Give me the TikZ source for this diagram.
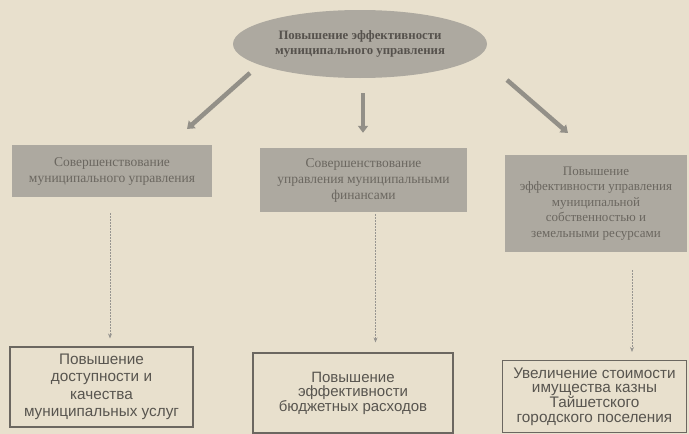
\documentclass[tikz,border=0pt]{standalone}
\usepackage{fontspec}
\setmainfont{Liberation Serif}
\newfontfamily\boxsans{Liberation Sans}
\usepackage{xcolor}
\usetikzlibrary{arrows.meta,positioning,shapes.geometric}
\definecolor{paper}{HTML}{E8E0CD}
\definecolor{shade}{HTML}{ADA9A0}
\definecolor{ink}{HTML}{6B6760}
\definecolor{sansink}{HTML}{58554F}

\begin{document}
\begin{tikzpicture}[x=1pt, y=-1pt, >=Latex,
  every node/.style={align=center},
  topbox/.style={fill=shade, draw=none, inner sep=0pt, text=ink, font=\fontsize{13.5}{16}\selectfont},
  goalbox/.style={draw=ink, line width=1.1pt, inner sep=0pt, text=sansink, font=\boxsans\fontsize{15.3}{17.5}\selectfont},
  fatarrow/.style={draw=shade!85!black, line width=4.5pt, -{Triangle[length=7pt,width=10pt]}},
  dotarrow/.style={draw=ink!70, line width=0.6pt, dash pattern=on 2pt off 1pt, -{Stealth[length=5pt,width=4pt]}}]
\fill[paper] (0,0) rectangle (689,434);
\node[ellipse, fill=shade, minimum width=254pt, minimum height=68pt, inner sep=0pt, text=ink!80!black, font=\bfseries\fontsize{12.8}{15}\selectfont] (ell) at (360,44) {Повышение эффективности\\муниципального управления};
\node[topbox, minimum width=200pt, minimum height=52pt] (b1) at (112,171) {Совершенствование\\муниципального управления};
\node[topbox, minimum width=207pt, minimum height=64pt] (b2) at (363.5,180) {Совершенствование\\управления муниципальными\\финансами};
\node[topbox, minimum width=182pt, minimum height=97pt, font=\fontsize{13}{15.5}\selectfont] (b3) at (596,203.5) {Повышение\\эффективности управления\\муниципальной\\собственностью и\\земельными ресурсами};
\node[goalbox, minimum width=183pt, minimum height=80pt] (g1) at (101.5,387) {Повышение\\доступности и\\качества\\муниципальных услуг};
\node[goalbox, minimum width=200pt, minimum height=80pt, font=\boxsans\fontsize{15}{14.5}\selectfont] (g2) at (353,393) {Повышение\\эффективности\\бюджетных расходов};
\node[goalbox, minimum width=184pt, minimum height=72pt, font=\boxsans\fontsize{15.3}{14.2}\selectfont] (g3) at (594.5,396.5) {Увеличение стоимости\\имущества казны\\Тайшетского\\городского поселения};
\coordinate (la) at (250,73);
\coordinate (lb) at (187,129);
\coordinate (ra) at (507,80);
\coordinate (rb) at (568,133);
\draw[fatarrow] (la) -- (lb);
\draw[fatarrow, shorten <=15pt, shorten >=15pt] (ell.south -| 363,0) -- (b2.north -| 363,0);
\draw[fatarrow] (ra) -- (rb);
\draw[dotarrow, shorten <=16pt, shorten >=8pt] ([xshift=-2pt]b1.south) -- ([xshift=-2pt]b1.south |- g1.north);
\draw[dotarrow, shorten <=2pt, shorten >=10pt] ([xshift=12pt]b2.south) -- ([xshift=12pt]b2.south |- g2.north);
\draw[dotarrow, shorten <=18pt, shorten >=8pt] ([xshift=36pt]b3.south) -- ([xshift=36pt]b3.south |- g3.north);
\end{tikzpicture}
\end{document}
